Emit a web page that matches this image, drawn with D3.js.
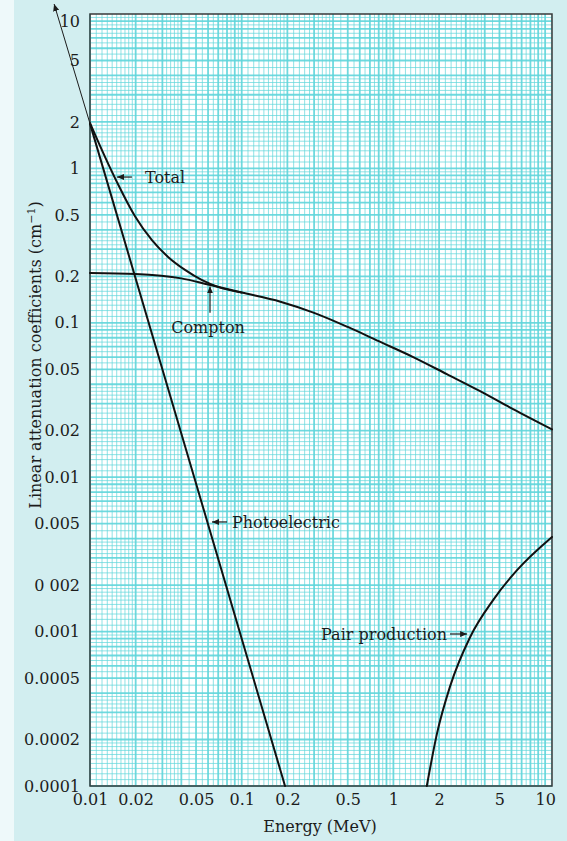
<!DOCTYPE html>
<html>
<head>
<meta charset="utf-8">
<script src="https://cdn.jsdelivr.net/npm/d3@7"></script>
<style>
  body { margin: 0; background: #d6eff1; }
  svg { display: block; }
</style>
</head>
<body>
<svg id="chart" width="567" height="841"></svg>
<script>
// Values: energy in MeV, coefficient in cm^-1
const comptonEnergy = [0.01, 0.02, 0.04, 0.06, 0.1, 0.18, 0.3, 0.5, 0.8, 1.35, 2.25, 3.7, 6.1, 11.1]
const comptonMu = [0.21, 0.207, 0.194, 0.177, 0.157, 0.137, 0.116, 0.094, 0.076, 0.060, 0.0465, 0.0362, 0.0277, 0.0204]

const totalEnergy = [0.01, 0.0126, 0.0153, 0.0198, 0.0256, 0.0327, 0.0423, 0.0548, 0.0698, 0.1]
const totalMu = [1.97, 1.18, 0.79, 0.49, 0.343, 0.267, 0.22, 0.189, 0.171, 0.157]

const photoEnergy = [0.01, 0.05, 0.193]
const photoMu = [1.95, 0.0091, 0.0001]
// thin arrow continuing the photoelectric line past the frame
const photoArrowEnergy = [0.01, 0.0058]
const photoArrowMu = [1.95, 11.6]

const pairEnergy = [1.66, 1.94, 2.36, 3.2, 4.54, 6.53, 11.1]
const pairMu = [0.0001, 0.00022, 0.00044, 0.00092, 0.0016, 0.0025, 0.0041]

const xTicks = [0.01, 0.02, 0.05, 0.1, 0.2, 0.5, 1, 2, 5, 10]
const xTickLabels = ["0.01", "0.02", "0.05", "0.1", "0.2", "0.5", "1", "2", "5", "10"]
const yTicks = [10, 5, 2, 1, 0.5, 0.2, 0.1, 0.05, 0.02, 0.01, 0.005, 0.002, 0.001, 0.0005, 0.0002, 0.0001]
const yTickLabels = ["10", "5", "2", "1", "0.5", "0.2", "0.1", "0.05", "0.02", "0.01", "0.005", "0 002", "0.001", "0.0005", "0.0002", "0.0001"]

// log paper rulings inside each decade
const gridSteps = [1, 1.1, 1.2, 1.3, 1.4, 1.5, 1.6, 1.7, 1.8, 1.9, 2, 2.2, 2.4, 2.6, 2.8, 3, 3.2, 3.4, 3.6, 3.8,
                   4, 4.5, 5, 5.5, 6, 6.5, 7, 7.5, 8, 8.5, 9, 9.5]

const fontFam = "'DejaVu Serif', serif"
const ink = "#1c1c1c"
const gridColor = "#5fd5da"

const xMin = 0.01, xMax = 11.1
const yMin = 0.0001, yMax = 10

const x = d3.scaleLog().domain([xMin, xMax]).range([90, 552])
const y = d3.scaleLog().domain([yMin, yMax]).range([786, 14])

const svg = d3.select("#chart")

// pale page
svg.append("rect")
    .attr("width", 567).attr("height", 841)
    .attr("fill", "#d2eef0")
svg.append("rect")
    .attr("width", 14).attr("height", 841)
    .attr("fill", "#eef9fa")

// paper inside the frame
svg.append("rect")
    .attr("x", x(xMin)).attr("y", y(yMax))
    .attr("width", x(xMax) - x(xMin)).attr("height", y(yMin) - y(yMax))
    .attr("fill", "#ffffff")

const gridGroup = svg.append("g")
const xGrid = []
for (let k = -2; k <= 1; k++) gridSteps.forEach(m => {
    const v = m * Math.pow(10, k)
    if (v >= xMin && v <= xMax) xGrid.push({v: v, major: Number.isInteger(m)})
})
const yGrid = []
for (let k = -4; k <= 0; k++) gridSteps.forEach(m => {
    const v = m * Math.pow(10, k)
    if (v >= yMin && v <= yMax) yGrid.push({v: v, major: Number.isInteger(m)})
})

gridGroup.selectAll(".vgrid").data(xGrid).join("line")
    .attr("x1", d => x(d.v)).attr("x2", d => x(d.v))
    .attr("y1", y(yMax)).attr("y2", y(yMin))
    .attr("stroke", gridColor)
    .attr("stroke-width", d => d.major ? 1.8 : 1)
    .attr("stroke-opacity", d => d.major ? 0.9 : 0.7)
gridGroup.selectAll(".hgrid").data(yGrid).join("line")
    .attr("x1", x(xMin)).attr("x2", x(xMax))
    .attr("y1", d => y(d.v)).attr("y2", d => y(d.v))
    .attr("stroke", gridColor)
    .attr("stroke-width", d => d.major ? 1.8 : 1)
    .attr("stroke-opacity", d => d.major ? 0.9 : 0.7)

// frame
svg.append("rect")
    .attr("x", x(xMin)).attr("y", y(yMax))
    .attr("width", x(xMax) - x(xMin)).attr("height", y(yMin) - y(yMax))
    .attr("fill", "none")
    .attr("stroke", "#3a3a3a")
    .attr("stroke-width", 1.5)

// axes
const xAxis = svg.append("g")
    .attr("transform", `translate(0,${y(yMin)})`)
    .call(d3.axisBottom(x).tickValues(xTicks).tickFormat((d, i) => xTickLabels[i]).tickSize(0).tickPadding(8))
const yAxis = svg.append("g")
    .attr("transform", `translate(${x(xMin)},0)`)
    .call(d3.axisLeft(y).tickValues(yTicks).tickFormat((d, i) => yTickLabels[i]).tickSize(0).tickPadding(10))
;[xAxis, yAxis].forEach(a => {
    a.select(".domain").remove()
    a.selectAll("text")
        .attr("font-family", fontFam)
        .attr("font-size", 16)
        .attr("fill", ink)
})
// top label sits just under the frame
yAxis.selectAll(".tick").filter(d => d === 10).select("text").attr("dy", "0.8em")

svg.append("text")
    .attr("x", 320).attr("y", 832)
    .attr("text-anchor", "middle")
    .attr("font-family", fontFam).attr("font-size", 16).attr("fill", ink)
    .text("Energy (MeV)")

const yTitle = svg.append("text")
    .attr("transform", "translate(41,355) rotate(-90)")
    .attr("text-anchor", "middle")
    .attr("font-family", fontFam).attr("font-size", 16).attr("fill", ink)
yTitle.append("tspan").text("Linear attenuation coefficients (cm")
yTitle.append("tspan").attr("font-size", 11).attr("dy", -6).text("−1")
yTitle.append("tspan").attr("dy", 6).text(")")

// arrowhead
svg.append("defs").append("marker")
    .attr("id", "head")
    .attr("viewBox", "0 -4 8 8")
    .attr("refX", 8).attr("refY", 0)
    .attr("markerWidth", 7).attr("markerHeight", 7)
    .attr("markerUnits", "userSpaceOnUse")
    .attr("orient", "auto")
    .append("path")
    .attr("d", "M0,-3.5L8,0L0,3.5Z")
    .attr("fill", ink)

// curves
const pts = (es, vs) => es.map((e, i) => ({e: e, v: vs[i]}))
const line = d3.line().x(d => x(d.e)).y(d => y(d.v)).curve(d3.curveMonotoneX)
const straight = d3.line().x(d => x(d.e)).y(d => y(d.v))

const curveGroup = svg.append("g")
    .attr("fill", "none")
    .attr("stroke", "#111")
    .attr("stroke-width", 2)
    .attr("stroke-linecap", "round")
curveGroup.append("path").attr("d", line(pts(comptonEnergy, comptonMu)))
curveGroup.append("path").attr("d", line(pts(totalEnergy, totalMu)))
curveGroup.append("path").attr("d", straight(pts(photoEnergy, photoMu)))
curveGroup.append("path").attr("d", line(pts(pairEnergy, pairMu)))

svg.append("path")
    .attr("d", straight(pts(photoArrowEnergy, photoArrowMu)))
    .attr("fill", "none")
    .attr("stroke", ink)
    .attr("stroke-width", 1)
    .attr("marker-end", "url(#head)")

// annotations: text anchor point and arrow, all in data units
const notes = [
    {text: "Total", tx: 0.02305, ty: 0.879, anchor: "start", from: [0.0189, 0.879], to: [0.01506, 0.879]},
    {text: "Compton", tx: 0.06, ty: 0.094, anchor: "middle", from: [0.0618, 0.116], to: [0.0618, 0.172]},
    {text: "Photoelectric", tx: 0.0863, ty: 0.00513, anchor: "start", from: [0.080, 0.00513], to: [0.0637, 0.00513]},
    {text: "Pair production", tx: 2.256, ty: 0.000965, anchor: "end", from: [2.36, 0.000965], to: [3.06, 0.000965]},
]
const noteGroup = svg.append("g")
noteGroup.selectAll("text").data(notes).join("text")
    .attr("x", d => x(d.tx)).attr("y", d => y(d.ty))
    .attr("dy", "0.35em")
    .attr("text-anchor", d => d.anchor)
    .attr("font-family", fontFam).attr("font-size", 16).attr("fill", ink)
    .text(d => d.text)
noteGroup.selectAll("line").data(notes).join("line")
    .attr("x1", d => x(d.from[0])).attr("y1", d => y(d.from[1]))
    .attr("x2", d => x(d.to[0])).attr("y2", d => y(d.to[1]))
    .attr("stroke", ink)
    .attr("stroke-width", 1.2)
    .attr("marker-end", "url(#head)")
</script>
</body>
</html>
